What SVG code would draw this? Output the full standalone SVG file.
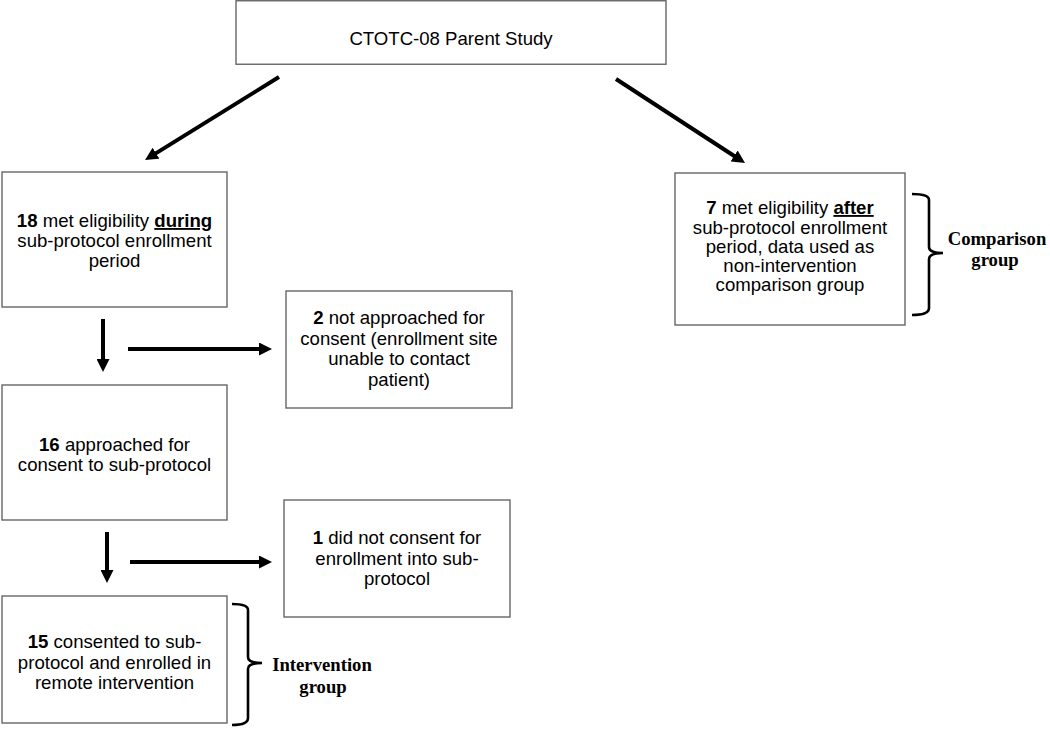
<svg xmlns="http://www.w3.org/2000/svg" width="1050" height="731" viewBox="0 0 1050 731">
<defs>
<style>
.box{fill:#fff;stroke:#666;stroke-width:1.4}
.t{font-family:"Liberation Sans",Arial,sans-serif;font-size:18.6px;fill:#000;text-anchor:middle}
.b{font-weight:bold}
.u{font-weight:bold;text-decoration:underline}
.lbl{font-family:"Liberation Serif","Times New Roman",serif;font-size:18.7px;font-weight:bold;fill:#000;text-anchor:middle}
.arr{stroke:#000;stroke-width:4;fill:none;marker-end:url(#ah)}
.brace{stroke:#000;stroke-width:2.6;fill:none}
</style>
<marker id="ah" viewBox="0 0 13 13" markerWidth="13" markerHeight="13" refX="7" refY="6.5" orient="auto" markerUnits="userSpaceOnUse">
<path d="M0,0 L13,6.5 L0,13 z" fill="#000"/>
</marker>
</defs>
<rect width="1050" height="731" fill="#fff"/>
<g id="connectors">
<line class="arr" x1="279" y1="77" x2="150.1" y2="156.9"/>
<line class="arr" x1="616" y1="79" x2="740" y2="159.7"/>
<line class="arr" x1="103" y1="319" x2="103" y2="366"/>
<line class="arr" x1="128" y1="349" x2="266" y2="349"/>
<line class="arr" x1="107" y1="532" x2="107" y2="577"/>
<line class="arr" x1="130" y1="562" x2="266" y2="562"/>
</g>
<g id="parent">
<rect class="box" x="236" y="0.75" width="430" height="63.5"/>
<text class="t" x="451" y="45">CTOTC-08 Parent Study</text>
</g>
<g id="during">
<rect class="box" x="2" y="172" width="225" height="135"/>
<text class="t" x="114.5" y="227"><tspan class="b">18</tspan> met eligibility <tspan class="u">during</tspan></text>
<text class="t" x="114.5" y="247">sub-protocol enrollment</text>
<text class="t" x="114.5" y="267">period</text>
</g>
<g id="not-approached">
<rect class="box" x="286" y="291" width="226" height="117"/>
<text class="t" x="399" y="324"><tspan class="b">2</tspan> not approached for</text>
<text class="t" x="399" y="344.5">consent (enrollment site</text>
<text class="t" x="399" y="365">unable to contact</text>
<text class="t" x="399" y="385.5">patient)</text>
</g>
<g id="approached">
<rect class="box" x="2" y="385" width="225" height="135"/>
<text class="t" x="114.5" y="451"><tspan class="b">16</tspan> approached for</text>
<text class="t" x="114.5" y="471">consent to sub-protocol</text>
</g>
<g id="no-consent">
<rect class="box" x="284" y="500" width="226" height="117"/>
<text class="t" x="397" y="544"><tspan class="b">1</tspan> did not consent for</text>
<text class="t" x="397" y="565">enrollment into sub-</text>
<text class="t" x="397" y="585">protocol</text>
</g>
<g id="consented">
<rect class="box" x="2" y="596" width="225" height="127"/>
<text class="t" x="114.5" y="648"><tspan class="b">15</tspan> consented to sub-</text>
<text class="t" x="114.5" y="669">protocol and enrolled in</text>
<text class="t" x="114.5" y="689">remote intervention</text>
</g>
<g id="after">
<rect class="box" x="675" y="173" width="230" height="152"/>
<text class="t" x="790" y="214"><tspan class="b">7</tspan> met eligibility <tspan class="u">after</tspan></text>
<text class="t" x="790" y="233.5">sub-protocol enrollment</text>
<text class="t" x="790" y="253">period, data used as</text>
<text class="t" x="790" y="272">non-intervention</text>
<text class="t" x="790" y="291">comparison group</text>
</g>
<g id="comparison-group">
<path class="brace" d="M912,194 Q929,194 929,200 L929,247 Q929,253 943,253 Q929,253 929,259 L929,308 Q929,315 912,315"/>
<text class="lbl" x="997" y="245">Comparison</text>
<text class="lbl" x="995" y="266">group</text>
</g>
<g id="intervention-group">
<path class="brace" d="M232,604 Q248,604 248,610 L248,657 Q248,663 262,663 Q248,663 248,669 L248,718 Q248,725 232,725"/>
<text class="lbl" x="322" y="671">Intervention</text>
<text class="lbl" x="323" y="693">group</text>
</g>
</svg>
